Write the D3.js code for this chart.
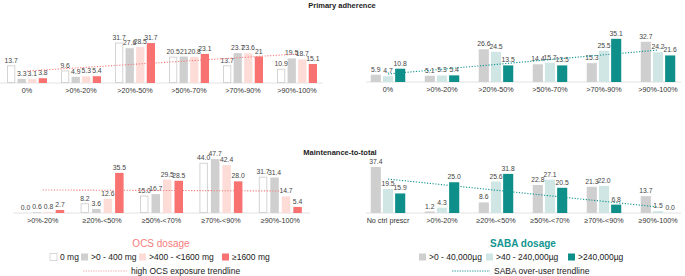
<!DOCTYPE html>
<html>
<head>
<meta charset="utf-8">
<script src="https://cdn.jsdelivr.net/npm/d3@7"></script>
<style>
  body { margin: 0; background: #fff; }
  svg { font-family: "Liberation Sans", Arial, sans-serif; }
</style>
</head>
<body>
<div id="chart"></div>
<script>
const W = 685, H = 276;

// --- data ---
const adhCats = ["0%", ">0%-20%", ">20%-50%", ">50%-70%", ">70%-90%", ">90%-100%"];
const mttOcsCats = [">0%-20%", "\u226520%-<50%", "\u226550%-<70%", "\u226570%-<90%", "\u226590%-100%"];
const mttSabaCats = ["No ctrl prescr", ">0%-20%", "\u226520%-<50%", "\u226550%-<70%", "\u226570%-<90%", "\u226590%-100%"];

const ocsSeries = ["0 mg", ">0 - 400 mg", ">400 - <1600 mg", "\u22651600 mg"];
const sabaSeries = [">0 - 40,000\u00b5g", ">40 - 240,000\u00b5g", ">240,000\u00b5g"];

// primary adherence, OCS
const adhOcs0 = [13.7, 9.6, 31.7, 20.5, 13.7, 10.9];
const adhOcs1 = [3.3, 4.9, 27.6, 21, 23.7, 19.5];
const adhOcs2 = [3.1, 5.3, 28.5, 20.8, 23.6, 18.7];
const adhOcs3 = [3.8, 5.4, 31.7, 23.1, 21.0, 15.1];
const adhOcsTrend = [9.5, 23];

// primary adherence, SABA
const adhSaba0 = [5.9, 5.1, 26.6, 14.4, 15.3, 32.7];
const adhSaba1 = [4.7, 5.3, 24.5, 15.7, 25.5, 24.2];
const adhSaba2 = [10.8, 5.4, 13.5, 13.5, 35.1, 21.6];
const adhSabaTrend = [6.5, 26];

// maintenance-to-total, OCS
const mttOcs0 = [0.0, 8.2, 15.0, 44.0, 31.7];
const mttOcs1 = [0.6, 3.6, 16.7, 47.7, 31.4];
const mttOcs2 = [0.8, 12.6, 29.5, 42.4, 14.7];
const mttOcs3 = [2.7, 35.5, 28.5, 28.0, 5.4];
const mttOcsTrend = [20.4, 19.5];

// maintenance-to-total, SABA
const mttSaba0 = [37.4, 1.2, 8.6, 22.8, 21.3, 13.7];
const mttSaba1 = [19.5, 4.3, 25.6, 27.1, 22.0, 1.5];
const mttSaba2 = [15.9, 25.0, 31.8, 20.5, 6.8, 0.0];
const mttSabaTrend = [27.6, 4.9];

const ocsFill = ["#ffffff", "#cfcfcf", "#fddcd8", "#f87272"];
const ocsStroke = ["#d4d4d4", "none", "none", "none"];
const sabaFill = ["#cfcfcf", "#cfe6e5", "#0e8f8a"];
const ocsColor = "#f47c7c", sabaColor = "#139591";

const svg = d3.select("#chart").append("svg")
  .attr("width", W).attr("height", H);

function panel(o) {
  const g = svg.append("g");
  const x = d3.scaleBand().domain(o.cats).range(o.xr).padding(0);
  const xi = d3.scaleBand().domain(d3.range(o.series.length))
    .range([-o.inner / 2, o.inner / 2]).paddingInner(o.pad);
  const y = d3.scaleLinear().domain([0, o.ymax]).range([o.base, o.base - o.ymax * o.k]);

  // baseline
  g.append("line")
    .attr("x1", o.line[0]).attr("x2", o.line[1])
    .attr("y1", o.base).attr("y2", o.base)
    .attr("stroke", "#e2e2e2").attr("stroke-width", 1);

  const rows = [];
  o.series.forEach((s, si) => s.forEach((v, ci) => rows.push({ si, ci, v })));

  g.selectAll("rect.bar").data(rows).enter().append("rect")
    .attr("x", d => x(o.cats[d.ci]) + x.bandwidth() / 2 + xi(d.si) + (o.stroke[d.si] !== "none" ? 0.5 : 0))
    .attr("width", d => xi.bandwidth() - (o.stroke[d.si] !== "none" ? 1 : 0))
    .attr("y", d => y(d.v))
    .attr("height", d => Math.max(0, o.base - y(d.v) - (o.stroke[d.si] !== "none" ? 0.5 : 0)))
    .attr("fill", d => o.fill[d.si])
    .attr("stroke", d => o.stroke[d.si])
    .attr("stroke-width", 1);

  g.selectAll("text.val").data(rows).enter().append("text")
    .attr("x", d => x(o.cats[d.ci]) + x.bandwidth() / 2 + xi(d.si) + xi.bandwidth() / 2)
    .attr("y", d => y(d.v) - 3)
    .attr("text-anchor", "middle")
    .attr("font-size", 6.8).attr("fill", "#444")
    .text(d => d.v.toFixed(1).replace(/\.0$/, d.v === 21 ? "" : ".0"));

  // trend line between first and last category centres
  const t = [
    [x(o.cats[0]) + x.bandwidth() / 2, y(o.trend[0])],
    [x(o.cats[o.cats.length - 1]) + x.bandwidth() / 2, y(o.trend[1])]
  ];
  g.append("path")
    .attr("d", d3.line()(t))
    .attr("stroke", o.trendColor).attr("stroke-width", 1.1)
    .attr("stroke-dasharray", "1.2 1.6").attr("fill", "none");

  g.selectAll("text.cat").data(o.cats).enter().append("text")
    .attr("x", d => x(d) + x.bandwidth() / 2)
    .attr("y", o.base + 7)
    .attr("dy", "0.35em")
    .attr("text-anchor", "middle")
    .attr("font-size", 7.2).attr("fill", "#333")
    .text(d => d);
}

panel({
  cats: adhCats, series: [adhOcs0, adhOcs1, adhOcs2, adhOcs3],
  xr: [0, 324], inner: 40, pad: 0.22, ymax: 40, base: 83, k: 1.26,
  line: [0, 323], fill: ocsFill, stroke: ocsStroke, trend: adhOcsTrend, trendColor: ocsColor
});
panel({
  cats: adhCats, series: [adhSaba0, adhSaba1, adhSaba2],
  xr: [361, 685], inner: 34.5, pad: 0.17, ymax: 40, base: 82, k: 1.23,
  line: [366, 681], fill: sabaFill, stroke: ["none", "none", "none"], trend: adhSabaTrend, trendColor: sabaColor
});
panel({
  cats: mttOcsCats, series: [mttOcs0, mttOcs1, mttOcs2, mttOcs3],
  xr: [13, 310], inner: 43, pad: 0.26, ymax: 50, base: 213, k: 1.13,
  line: [13, 310], fill: ocsFill, stroke: ocsStroke, trend: mttOcsTrend, trendColor: ocsColor
});
panel({
  cats: mttSabaCats, series: [mttSaba0, mttSaba1, mttSaba2],
  xr: [361, 685], inner: 34.5, pad: 0.17, ymax: 40, base: 213, k: 1.23,
  line: [366, 681], fill: sabaFill, stroke: ["none", "none", "none"], trend: mttSabaTrend, trendColor: sabaColor
});

// titles
svg.append("text").attr("x", 342).attr("y", 5).attr("dy", "0.35em")
  .attr("text-anchor", "middle").attr("font-size", 7.5).attr("font-weight", "bold")
  .attr("fill", "#222").text("Primary adherence");
svg.append("text").attr("x", 340).attr("y", 152).attr("dy", "0.35em")
  .attr("text-anchor", "middle").attr("font-size", 7.5).attr("font-weight", "bold")
  .attr("fill", "#222").text("Maintenance-to-total");

// legends
function legend(title, color, cx, names, fills, strokes, xs, trendLabel, tx) {
  const g = svg.append("g");
  g.append("text").attr("x", cx).attr("y", 243).attr("dy", "0.35em")
    .attr("text-anchor", "middle").attr("font-size", 10)
    .attr("font-weight", color === sabaColor ? "bold" : "normal")
    .attr("fill", color).text(title);
  names.forEach((n, i) => {
    g.append("rect").attr("x", xs[i]).attr("y", 253.5).attr("width", 7).attr("height", 7)
      .attr("fill", fills[i]).attr("stroke", strokes[i]).attr("stroke-width", 0.8);
    g.append("text").attr("x", xs[i] + 10).attr("y", 257).attr("dy", "0.35em")
      .attr("font-size", 8.5).attr("fill", "#222").text(n);
  });
  g.append("line").attr("x1", tx[0]).attr("x2", tx[1]).attr("y1", 271).attr("y2", 271)
    .attr("stroke", color).attr("stroke-width", 0.8).attr("stroke-dasharray", "1.5 1")
    .attr("opacity", color === ocsColor ? 0.7 : 1);
  g.append("text").attr("x", tx[1] + 4).attr("y", 271).attr("dy", "0.35em")
    .attr("font-size", 8.5).attr("fill", "#222").text(trendLabel);
}

legend("OCS dosage", ocsColor, 161, ocsSeries, ocsFill, ["#cfcfcf", "none", "none", "none"],
  [50, 81, 139, 222], "high OCS exposure trendline", [83, 127]);
legend("SABA dosage", sabaColor, 523, sabaSeries, sabaFill, ["none", "none", "none"],
  [419, 486, 568], "SABA over-user trendline", [452, 490]);
</script>
</body>
</html>
